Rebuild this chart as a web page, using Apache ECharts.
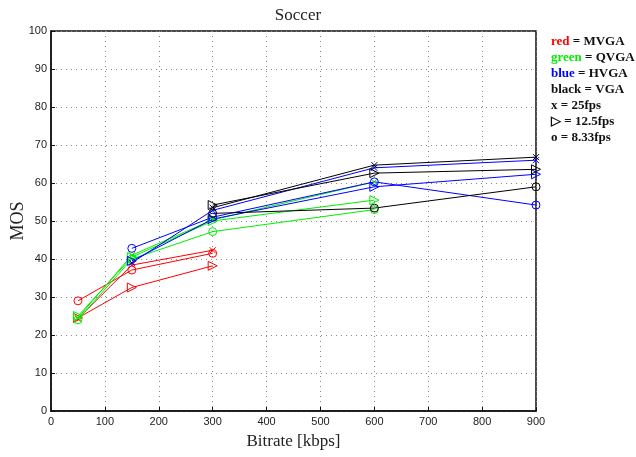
<!DOCTYPE html>
<html>
<head>
<meta charset="utf-8">
<script src="https://cdn.jsdelivr.net/npm/echarts@6/dist/echarts.min.js"></script>
<style>
  html, body { margin: 0; padding: 0; background: #fff; }
  #main { width: 636px; height: 457px; }
</style>
</head>
<body>
<div id="main"></div>
<script>
// bitrates in kbps
var bitrates = [50, 150, 300, 600, 900];

// MOS values, one list per resolution / frame rate
var mvga25 = [24.3, 38.4, 42.3];
var mvga12 = [24.5, 32.5, 38.2];
var mvga8 = [29, 37.1, 41.5];

var qvga25 = [24.5, 41, 50.3, 60.3];
var qvga12 = [25, 40.5, 50, 55.5];
var qvga8 = [24, 40, 47.2, 53];

var hvga25 = [39, 52.8, 64, 66];      // from 150
var hvga12 = [39.5, 50.5, 59, 62.3];
var hvga8 = [42.8, 51, 60.3, 54.2];

var vga25 = [53.5, 64.7, 66.8];       // from 300
var vga12 = [54.2, 62.6, 63.6];
var vga8 = [52, 53.4, 59];

var yTicks = [0, 10, 20, 30, 40, 50, 60, 70, 80, 90, 100];

var symX = 'path://M0,0L10,10M10,0L0,10';
var symTri = 'path://M0,0L10,5L0,10Z';
var symO = 'circle';

function pairs(vals, start) {
    return vals.map(function (v, i) { return [bitrates[start + i], v]; });
}

function mk(name, vals, start, color, sym) {
    return {
        name: name,
        type: 'line',
        data: pairs(vals, start),
        symbol: sym,
        symbolSize: sym === symO ? 8 : (sym === symX ? 6 : 9),
        showSymbol: true,
        lineStyle: { color: color, width: 1 },
        itemStyle: { color: 'rgba(0,0,0,0)', borderColor: color, borderWidth: 1 },
        animation: false
    };
}

var myChart = echarts.init(document.getElementById('main'));
var option = {
    backgroundColor: '#fff',
    title: {
        text: 'Soccer',
        left: 293,
        top: 2,
        textAlign: 'center',
        textStyle: { fontFamily: 'Liberation Serif', fontWeight: 'normal', fontSize: 17, color: '#222' }
    },
    grid: { left: 51, right: 100, top: 31, bottom: 46, show: true, borderColor: '#111', borderWidth: 1.5,
        containLabel: false, outerBoundsMode: 'none' },
    xAxis: {
        type: 'value',
        min: 0, max: 900, interval: 100,
        name: 'Bitrate [kbps]',
        nameLocation: 'middle',
        nameGap: 22,
        nameTextStyle: { fontFamily: 'Liberation Serif', fontSize: 17, color: '#222' },
        axisLine: { show: true, lineStyle: { color: '#111', width: 1.5 } },
        axisTick: { show: true, inside: true, length: 4, lineStyle: { color: '#111' } },
        axisLabel: { fontFamily: 'Liberation Sans', fontSize: 11, color: '#222', margin: 5 },
        splitLine: { show: true, lineStyle: { color: '#888', type: [1, 4], width: 1 } }
    },
    yAxis: {
        type: 'value',
        min: 0, max: 100, interval: 10,
        name: 'MOS',
        nameLocation: 'middle',
        nameGap: 24,
        nameMoveOverlap: false,
        nameTextStyle: { fontFamily: 'Liberation Serif', fontSize: 18, color: '#222' },
        axisLine: { show: true, lineStyle: { color: '#111', width: 1.5 } },
        axisTick: { show: true, inside: true, length: 4, lineStyle: { color: '#111' } },
        axisLabel: { fontFamily: 'Liberation Sans', fontSize: 11, color: '#222', margin: 4,
            formatter: function (v) { return yTicks.indexOf(v) >= 0 ? String(v) : ''; } },
        splitLine: { show: true, lineStyle: { color: '#888', type: [1, 4], width: 1 } }
    },
    graphic: [{
        type: 'text',
        left: 551,
        top: 34,
        style: {
            text: '{r|red} = MVGA\n{g|green} = QVGA\n{b|blue} = HVGA\nblack = VGA\nx = 25fps\n\u25B7 = 12.5fps\no = 8.33fps',
            fontFamily: 'Liberation Serif',
            fontWeight: 'bold',
            fontSize: 13,
            lineHeight: 16,
            fill: '#111',
            rich: {
                r: { fill: '#ff0000', fontFamily: 'Liberation Serif', fontWeight: 'bold', fontSize: 13 },
                g: { fill: '#00ee00', fontFamily: 'Liberation Serif', fontWeight: 'bold', fontSize: 13 },
                b: { fill: '#0000ff', fontFamily: 'Liberation Serif', fontWeight: 'bold', fontSize: 13 }
            }
        }
    }],
    series: [
        mk('MVGA 25', mvga25, 0, '#ff0000', symX),
        mk('MVGA 12.5', mvga12, 0, '#ff0000', symTri),
        mk('MVGA 8.33', mvga8, 0, '#ff0000', symO),
        mk('QVGA 25', qvga25, 0, '#00ee00', symX),
        mk('QVGA 12.5', qvga12, 0, '#00ee00', symTri),
        mk('QVGA 8.33', qvga8, 0, '#00ee00', symO),
        mk('HVGA 25', hvga25, 1, '#0000ff', symX),
        mk('HVGA 12.5', hvga12, 1, '#0000ff', symTri),
        mk('HVGA 8.33', hvga8, 1, '#0000ff', symO),
        mk('VGA 25', vga25, 2, '#000000', symX),
        mk('VGA 12.5', vga12, 2, '#000000', symTri),
        mk('VGA 8.33', vga8, 2, '#000000', symO)
    ]
};
myChart.setOption(option);
</script>
</body>
</html>
